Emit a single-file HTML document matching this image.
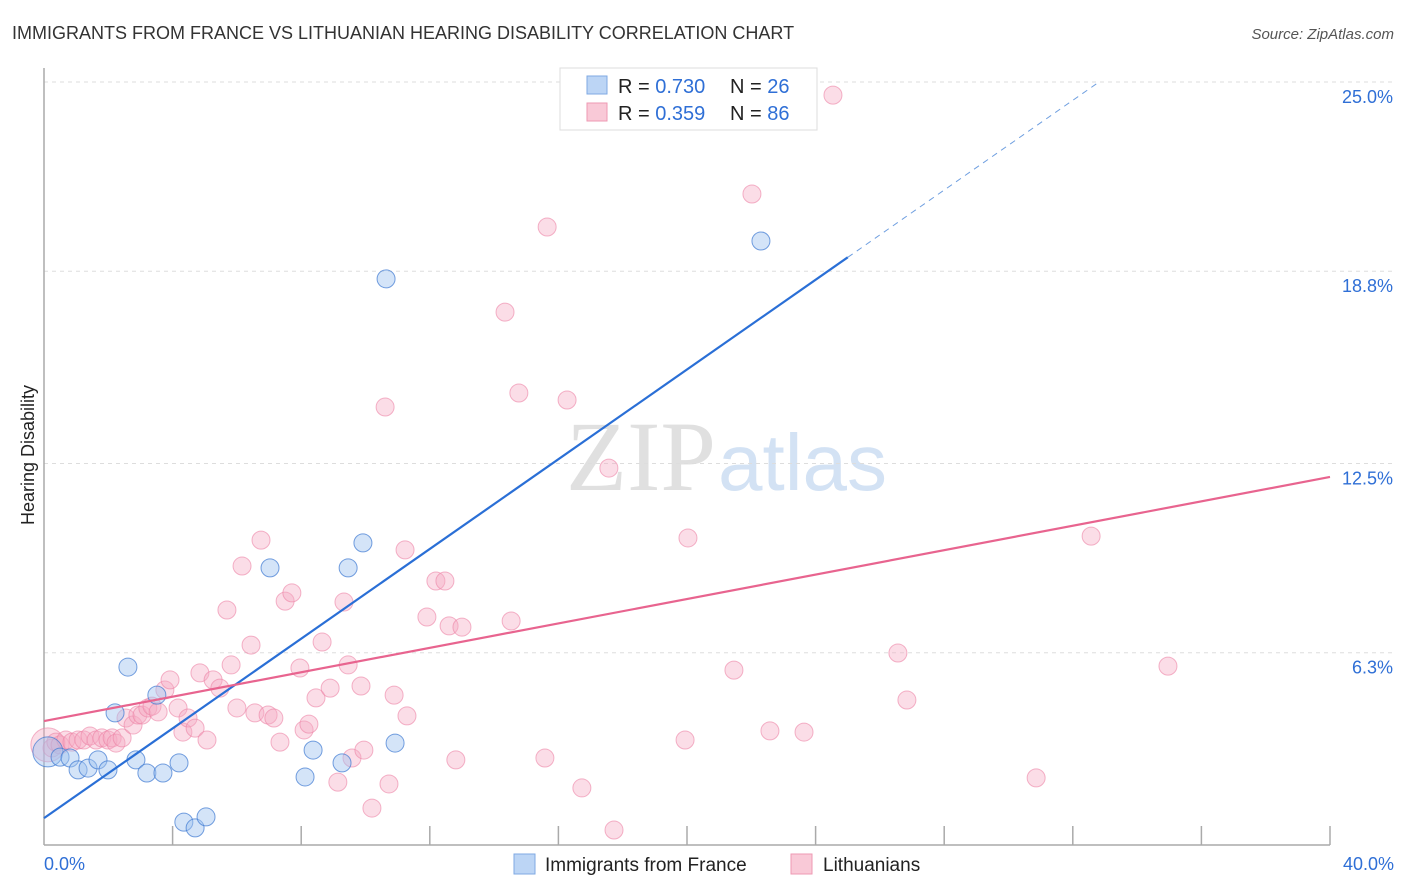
<!DOCTYPE html>
<html><head><meta charset="utf-8"><style>
body{margin:0;background:#fff;font-family:"Liberation Sans",sans-serif}
#c{position:absolute;left:0;top:0}
</style></head><body>
<svg id="c" width="1406" height="892">
<text x="12" y="39" font-size="18" fill="#333">IMMIGRANTS FROM FRANCE VS LITHUANIAN HEARING DISABILITY CORRELATION CHART</text>
<text x="1394" y="39" font-size="15" fill="#555" font-style="italic" text-anchor="end">Source: ZipAtlas.com</text>
<text x="716" y="490" font-size="100" fill="#e0e0e0" text-anchor="end" font-family="Liberation Serif,serif">ZIP</text>
<text x="718" y="490" font-size="80" fill="#d3e2f4">atlas</text>
<g id="grid"></g>
<g id="axes"></g>
<g id="marks"></g>
<text transform="translate(34,455) rotate(-90)" font-size="18" fill="#222" text-anchor="middle">Hearing Disability</text>
<g>
<rect x="560" y="68" width="257" height="62" fill="#fff" stroke="#ddd"/>
<rect x="587" y="76" width="20" height="18" fill="#bcd5f5" stroke="#7fa9e3"/>
<rect x="587" y="103" width="20" height="18" fill="#f9c9d7" stroke="#ee99b3"/>
<text x="618" y="93" font-size="20" fill="#222">R = <tspan fill="#2f6fd6">0.730</tspan><tspan x="730">N = </tspan><tspan fill="#2f6fd6">26</tspan></text>
<text x="618" y="120" font-size="20" fill="#222">R = <tspan fill="#2f6fd6"> 0.359</tspan><tspan x="730">N = </tspan><tspan fill="#2f6fd6">86</tspan></text>
</g>
<g>
<rect x="514" y="854" width="21" height="20" fill="#bcd5f5" stroke="#7fa9e3"/>
<text x="545" y="871" font-size="19" fill="#222">Immigrants from France</text>
<rect x="791" y="854" width="21" height="20" fill="#f9c9d7" stroke="#ee99b3"/>
<text x="823" y="871" font-size="19" fill="#222">Lithuanians</text>
</g>
</svg>
<script>
const yTicks=[25.0,18.8,12.5,6.3];
const yTickLabels=["25.0%","18.8%","12.5%","6.3%"];
const xTicks=[0,4,8,12,16,20,24,28,32,36,40];
const franceX=[0.12,0.50,0.81,1.06,1.37,1.68,1.99,2.21,2.61,2.86,3.20,3.51,3.70,4.20,4.35,4.70,5.04,7.03,8.12,8.37,9.27,9.46,9.92,10.64,10.92,22.30];
const franceY=[3.05,2.88,2.85,2.46,2.52,2.79,2.46,4.33,5.83,2.79,2.36,4.91,2.36,2.69,0.75,0.56,0.92,9.08,2.23,3.11,2.69,9.08,9.90,18.55,3.34,19.79];
const lithX=[0.12,0.25,0.37,0.50,0.68,0.87,1.06,1.24,1.43,1.62,1.80,1.99,2.12,2.24,2.43,2.55,2.77,2.92,3.05,3.23,3.36,3.55,3.76,3.92,4.17,4.32,4.48,4.70,4.85,5.07,5.26,5.47,5.69,5.82,6.00,6.16,6.44,6.56,6.75,6.97,7.15,7.34,7.50,7.71,7.96,8.09,8.24,8.46,8.65,8.90,9.14,9.33,9.46,9.58,9.86,9.95,10.20,10.61,10.73,10.89,11.23,11.29,11.91,12.19,12.47,12.60,12.81,13.00,14.34,14.53,14.77,15.58,15.65,16.27,16.73,17.57,17.73,19.94,20.03,21.46,22.02,22.58,23.64,24.54,26.56,26.84,30.86,32.57,34.96];
const lithY=[3.28,3.18,3.37,3.28,3.44,3.37,3.44,3.44,3.57,3.44,3.51,3.44,3.51,3.34,3.51,4.16,3.93,4.26,4.26,4.49,4.55,4.36,5.08,5.41,4.49,3.70,4.16,3.83,5.64,3.44,5.41,5.14,7.70,5.90,4.49,9.14,6.55,4.33,9.99,4.26,4.16,3.37,7.99,8.26,5.80,3.77,3.96,4.82,6.65,5.14,2.06,7.96,5.90,2.85,5.21,3.11,1.21,14.35,2.00,4.91,9.67,4.23,7.47,8.65,8.65,7.18,2.79,7.14,17.46,7.34,14.81,2.85,20.25,14.58,1.87,12.35,0.49,3.44,10.06,5.73,21.33,3.74,3.70,24.57,6.29,4.75,2.20,10.12,5.86];
const franceFit=[0.88,0.735]; // intercept, slope
const lithFit=[4.06,0.2];
const X=v=>44+v*32.15, Y=v=>845-v*30.52;
const NS="http://www.w3.org/2000/svg";
function mk(tag,attrs,parent){const e=document.createElementNS(NS,tag);for(const k in attrs)e.setAttribute(k,attrs[k]);document.getElementById(parent).appendChild(e);return e;}
yTicks.forEach((t,i)=>{
 const l=mk('line',{x1:44,x2:1394,y1:Y(t),y2:Y(t),stroke:'#ddd','stroke-dasharray':'4,4'},'grid');
 
 
 const tx=mk('text',{x:1393,y:Y(t)+21,'font-size':18,fill:'#2f6fd6','text-anchor':'end'},'grid');
 tx.textContent=yTickLabels[i];
 
 
});
let a=mk('line',{x1:44,x2:44,y1:68,y2:845,stroke:'#aaa','stroke-width':1.5},'axes');


a=mk('line',{x1:44,x2:1330,y1:845,y2:845,stroke:'#aaa','stroke-width':1.5},'axes');


xTicks.forEach(t=>{if(t===0)return;
 const l=mk('line',{x1:X(t),x2:X(t),y1:826,y2:845,stroke:'#aaa','stroke-width':1.5},'axes');
 
 
});
let t0=mk('text',{x:44,y:870,'font-size':18,fill:'#2f6fd6'},'axes');t0.textContent='0.0%';


let t1=mk('text',{x:1394,y:870,'font-size':18,fill:'#2f6fd6','text-anchor':'end'},'axes');t1.textContent='40.0%';


lithX.forEach((x,i)=>{
 const c=mk('circle',{cx:X(x),cy:Y(lithY[i]),r:i===0?17:9,fill:'rgba(246,170,195,0.4)',stroke:'rgba(236,130,165,0.6)','stroke-width':1},'marks');
 
 
});
franceX.forEach((x,i)=>{
 const c=mk('circle',{cx:X(x),cy:Y(franceY[i]),r:i===0?15:9,fill:'rgba(160,196,240,0.45)',stroke:'rgba(60,120,210,0.7)','stroke-width':1},'marks');
 
 
});
let ln=mk('line',{x1:X(0),y1:Y(franceFit[0]),x2:X(25),y2:Y(franceFit[0]+franceFit[1]*25),stroke:'#2a6fd6','stroke-width':2.2},'marks');


ln=mk('line',{x1:X(25),y1:Y(franceFit[0]+franceFit[1]*25),x2:X(32.8),y2:Y(franceFit[0]+franceFit[1]*32.8),stroke:'#6f9fe0','stroke-width':1,'stroke-dasharray':'6,5'},'marks');


ln=mk('line',{x1:X(0),y1:Y(lithFit[0]),x2:X(40),y2:Y(lithFit[0]+lithFit[1]*40),stroke:'#e8648f','stroke-width':2.2},'marks');


</script>
</body></html>
